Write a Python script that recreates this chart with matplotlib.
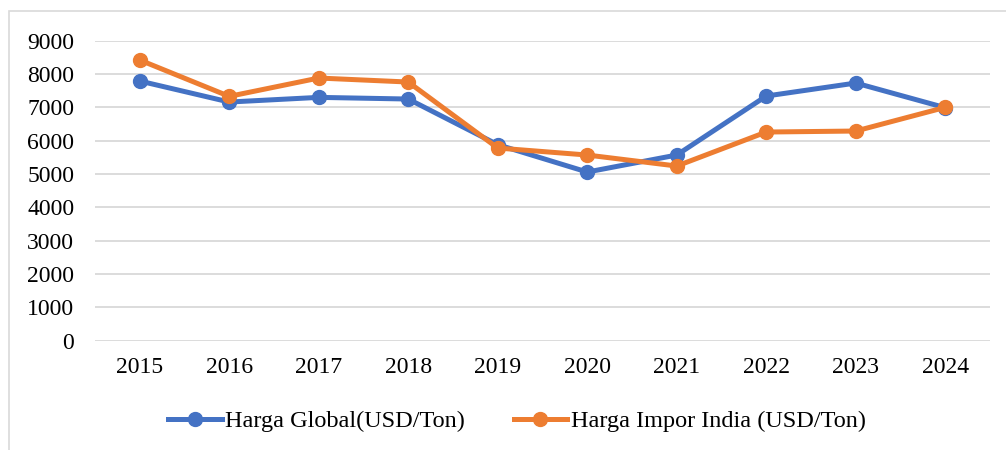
import matplotlib
matplotlib.use("Agg")
import matplotlib.pyplot as plt
from matplotlib.patches import Rectangle

# data
years = ["2015", "2016", "2017", "2018", "2019", "2020", "2021", "2022", "2023", "2024"]
harga_global = [7790, 7160, 7300, 7250, 5880, 5060, 5570, 7340, 7730, 6990]
harga_impor_india = [8420, 7330, 7880, 7760, 5780, 5570, 5240, 6260, 6290, 7000]
y_ticks = [0, 1000, 2000, 3000, 4000, 5000, 6000, 7000, 8000, 9000]

plt.rcParams["font.family"] = ["Liberation Serif", "DejaVu Serif"]

fig = plt.figure(figsize=(10.06, 4.5), dpi=100)
ax = fig.add_axes([95 / 1006, 1 - 340.7 / 450, 895 / 1006, 300 / 450])

# outer chart frame (light grey), cut off at right/bottom like the reference
fig.patches.append(Rectangle((9 / 1006, -0.1), 1.2, 1 - 11 / 450 + 0.1,
                             transform=fig.transFigure, fill=False,
                             edgecolor="#d9d9d9", linewidth=1.2))

x = list(range(len(years)))
ax.plot(x, harga_global, color="#4472C4", lw=3.6, marker="o", ms=10,
        label="Harga Global(USD/Ton)", zorder=3)
ax.plot(x, harga_impor_india, color="#ED7D31", lw=3.6, marker="o", ms=10,
        label="Harga Impor India (USD/Ton)", zorder=4)

ax.set_xlim(-0.5, len(years) - 0.5)
ax.set_ylim(0, 9000)
ax.set_xticks(x)
ax.set_xticklabels(years)
ax.set_yticks(y_ticks)
ax.grid(axis="y", color="#d9d9d9", lw=1.3)
ax.set_axisbelow(True)
for s in ax.spines.values():
    s.set_visible(False)
ax.tick_params(axis="both", length=0, labelsize=17)
ax.tick_params(axis="y", pad=15)
ax.tick_params(axis="x", pad=12)

fig.legend(loc="center", bbox_to_anchor=(517 / 1006, 1 - 421 / 450),
           ncol=2, frameon=False, fontsize=17.5, handlelength=2.2,
           handletextpad=0.15, columnspacing=2.0)

fig.savefig("out.png", dpi=100)
